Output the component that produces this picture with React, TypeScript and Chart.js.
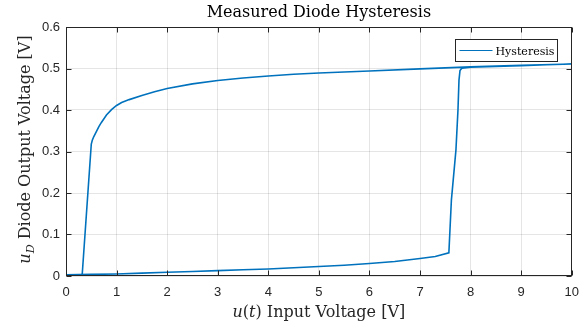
import { useEffect, useRef } from 'react';
import { Chart, registerables } from 'chart.js';

Chart.register(...registerables);

// Forward (lower) branch, input rising 0 -> 10 V
const lowerX = [0, 0.5, 1, 1.5, 2, 2.5, 3, 3.5, 4, 4.5, 5, 5.5, 6, 6.5, 7, 7.3, 7.57, 7.62, 7.71, 7.75, 7.77, 7.79, 7.83, 8, 8.5, 9, 9.5, 10];
const lowerY = [0.003, 0.004, 0.005, 0.007, 0.009, 0.011, 0.013, 0.015, 0.017, 0.02, 0.023, 0.026, 0.03, 0.035, 0.042, 0.047, 0.056, 0.183, 0.304, 0.4, 0.472, 0.495, 0.501, 0.503, 0.505, 0.507, 0.509, 0.511];

// Return (upper) branch, input falling 10 -> 0 V
const upperX = [10, 9, 8, 7, 6, 5, 4.5, 4, 3.5, 3, 2.5, 2, 1.75, 1.5, 1.25, 1.1, 1, 0.9, 0.8, 0.7, 0.65, 0.6, 0.55, 0.52, 0.5, 0.32, 0];
const upperY = [0.511, 0.508, 0.504, 0.499, 0.494, 0.489, 0.486, 0.482, 0.477, 0.471, 0.463, 0.452, 0.444, 0.435, 0.425, 0.418, 0.411, 0.401, 0.388, 0.37, 0.36, 0.348, 0.336, 0.327, 0.318, 0.003, 0.003];

const xTicks = [0, 1, 2, 3, 4, 5, 6, 7, 8, 9, 10];
const yTicks = [0, 0.1, 0.2, 0.3, 0.4, 0.5, 0.6];
const seriesLabel = 'Hysteresis';
const titleText = 'Measured Diode Hysteresis';

const LINE_COLOR = '#0072BD';
const AXIS_COLOR = '#262626';
const SERIF = '"DejaVu Serif", serif';

type Seg = { t: string; it?: boolean; sub?: boolean };

function drawSegs(ctx: CanvasRenderingContext2D, segs: Seg[], x: number, y: number, size: number) {
  const fontOf = (s: Seg) => `${s.it ? 'italic ' : ''}${s.sub ? size * 0.7 : size}px ${SERIF}`;
  let total = 0;
  for (const s of segs) {
    ctx.font = fontOf(s);
    total += ctx.measureText(s.t).width;
  }
  let cx = x - total / 2;
  ctx.textAlign = 'left';
  ctx.textBaseline = 'alphabetic';
  for (const s of segs) {
    ctx.font = fontOf(s);
    ctx.fillText(s.t, cx, y + (s.sub ? size * 0.22 : 0));
    cx += ctx.measureText(s.t).width;
  }
}

const overlay = {
  id: 'overlay',
  afterDraw(chart: any) {
    const { ctx, chartArea: a, scales } = chart;
    const L = Math.round(a.left) + 0.5;
    const R = Math.round(a.right) - 0.5;
    const T = Math.round(a.top) + 0.5;
    const B = Math.round(a.bottom) - 0.5;
    ctx.save();
    // box
    ctx.strokeStyle = AXIS_COLOR;
    ctx.lineWidth = 1;
    ctx.strokeRect(L, T, R - L, B - T);
    // inward ticks
    const tl = 5;
    ctx.beginPath();
    for (const v of xTicks) {
      const px = Math.round(scales.x.getPixelForValue(v)) + 0.5;
      ctx.moveTo(px, B); ctx.lineTo(px, B - tl);
      ctx.moveTo(px, T); ctx.lineTo(px, T + tl);
    }
    for (const v of yTicks) {
      const py = Math.round(scales.y.getPixelForValue(v)) + 0.5;
      ctx.moveTo(L, py); ctx.lineTo(L + tl, py);
      ctx.moveTo(R, py); ctx.lineTo(R - tl, py);
    }
    ctx.stroke();

    const cxPlot = (a.left + a.right) / 2;
    const cyPlot = (a.top + a.bottom) / 2;
    // title
    ctx.fillStyle = '#000';
    drawSegs(ctx, [{ t: titleText }], cxPlot, 17, 16);
    // x label
    ctx.fillStyle = AXIS_COLOR;
    drawSegs(ctx, [{ t: 'u', it: true }, { t: '(' }, { t: 't', it: true }, { t: ') Input Voltage [V]' }], cxPlot, 317, 16);
    // y label
    ctx.save();
    ctx.translate(30, cyPlot - 2);
    ctx.rotate(-Math.PI / 2);
    drawSegs(ctx, [{ t: 'u', it: true }, { t: 'D', it: true, sub: true }, { t: ' Diode Output Voltage [V]' }], 0, 0, 16);
    ctx.restore();

    // legend
    const bw = 102, bh = 22;
    const bx = Math.round(a.right) - 15 - bw + 0.5;
    const by = Math.round(a.top) + 12 + 0.5;
    ctx.fillStyle = '#fff';
    ctx.fillRect(bx, by, bw, bh);
    ctx.strokeStyle = AXIS_COLOR;
    ctx.lineWidth = 1;
    ctx.strokeRect(bx, by, bw, bh);
    ctx.strokeStyle = LINE_COLOR;
    ctx.lineWidth = 1;
    ctx.beginPath();
    ctx.moveTo(bx + 4, by + 11);
    ctx.lineTo(bx + 37, by + 11);
    ctx.stroke();
    ctx.fillStyle = '#000';
    ctx.font = `11px ${SERIF}`;
    ctx.textAlign = 'left';
    ctx.textBaseline = 'alphabetic';
    ctx.fillText(seriesLabel, bx + 40, by + 15);
    ctx.restore();
  },
};

export default function App() {
  const ref = useRef<HTMLCanvasElement | null>(null);
  useEffect(() => {
    if (!ref.current) return;
    const points = [
      ...lowerX.map((x, i) => ({ x, y: lowerY[i] })),
      ...upperX.map((x, i) => ({ x, y: upperY[i] })),
    ];
    const tickFont = { family: '"Liberation Sans", Arial, sans-serif', size: 13 };
    const chart = new Chart(ref.current, {
      type: 'scatter',
      data: {
        datasets: [
          {
            label: seriesLabel,
            data: points,
            showLine: true,
            borderColor: LINE_COLOR,
            backgroundColor: LINE_COLOR,
            borderWidth: 1.6,
            pointRadius: 0,
            tension: 0,
          },
        ],
      },
      options: {
        animation: false,
        responsive: false,
        layout: { padding: { top: 27, right: 16, left: 0, bottom: 0 } },
        plugins: { legend: { display: false }, tooltip: { enabled: false }, title: { display: false } },
        scales: {
          x: {
            type: 'linear',
            min: 0,
            max: 10,
            afterBuildTicks: (s: any) => { s.ticks = xTicks.map((v) => ({ value: v })); },
            afterFit: (s: any) => { s.height = 53; },
            ticks: { font: tickFont, color: AXIS_COLOR, padding: 9, maxRotation: 0, callback: (v: any) => String(v) },
            grid: { color: 'rgba(38,38,38,0.12)', drawTicks: false },
            border: { display: false },
          },
          y: {
            type: 'linear',
            min: 0,
            max: 0.6,
            afterBuildTicks: (s: any) => { s.ticks = yTicks.map((v) => ({ value: v })); },
            afterFit: (s: any) => { s.width = 66; },
            ticks: {
              font: tickFont,
              color: AXIS_COLOR,
              padding: 6,
              callback: (v: any) => (Number(v) === 0 ? '0' : Number(v).toFixed(1)),
            },
            grid: { color: 'rgba(38,38,38,0.12)', drawTicks: false },
            border: { display: false },
          },
        },
      },
      plugins: [overlay],
    });
    return () => chart.destroy();
  }, []);
  return (
    <div style={{ position: 'fixed', left: 0, top: 0, width: 588, height: 329, background: '#fff' }}>
      <canvas ref={ref} width={588} height={329} />
    </div>
  );
}
